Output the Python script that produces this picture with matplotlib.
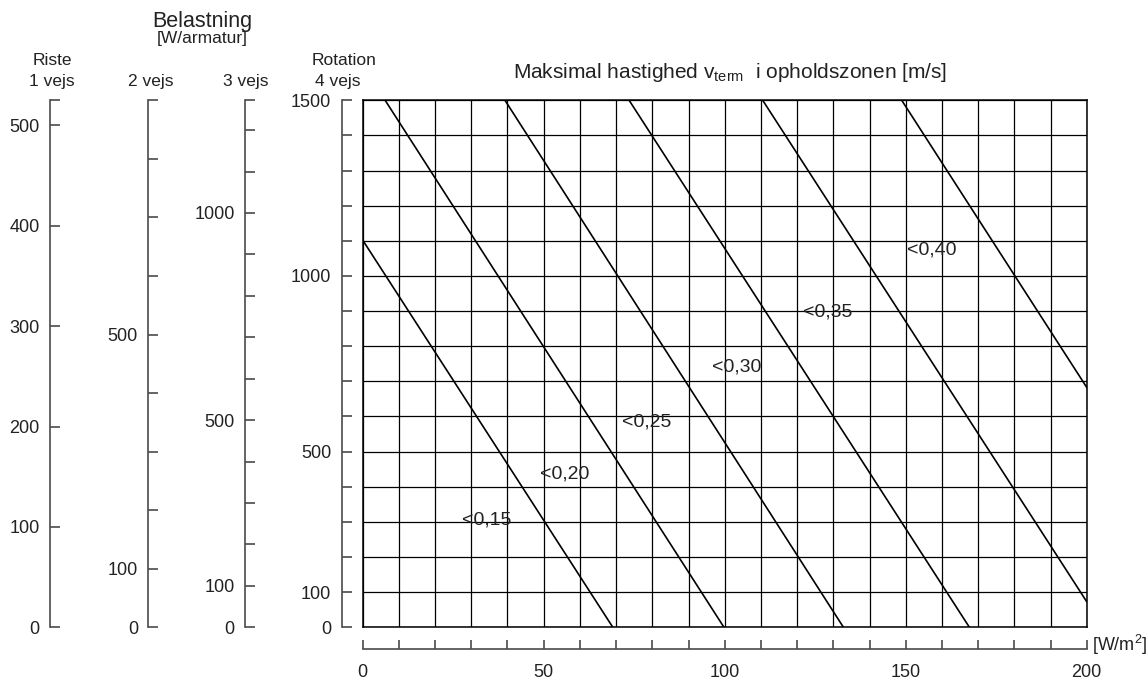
import numpy as np
import matplotlib
matplotlib.use("Agg")
import matplotlib.pyplot as plt

plt.rcParams["font.family"] = ["Liberation Sans", "DejaVu Sans"]
plt.rcParams["mathtext.fontset"] = "custom"
plt.rcParams["mathtext.rm"] = "Liberation Sans"
plt.rcParams["mathtext.it"] = "Liberation Sans:italic"

# ======================
# data
# ======================
# velocity lines in the main grid: start / end points (W/m2, W/armatur 4 vejs)
line_labels = ["<0,15", "<0,20", "<0,25", "<0,30", "<0,35", "<0,40"]
line_x0 = [0, 6.2, 39.3, 73.6, 110.5, 148.9]
line_y0 = [1102, 1500, 1500, 1500, 1500, 1500]
line_x1 = [69.1, 99.8, 132.8, 167.6, 200, 200]
line_y1 = [0, 0, 0, 0, 73, 683]
label_x = [27.4, 49.0, 71.6, 96.5, 121.6, 150.4]
label_y = [305, 436, 584, 741, 897, 1074]

# load scales on the left
scale_names = ["Riste\n1 vejs", "2 vejs", "3 vejs", "Rotation\n4 vejs"]
scale_max = [525, 900, 1272, 1500]
scale_step = [100, 100, 100, 100]
scale_labels = [[0, 100, 200, 300, 400, 500],
                [0, 100, 500],
                [0, 100, 500, 1000],
                [0, 100, 500, 1000, 1500]]

x_max = 200
x_labels = [0, 50, 100, 150, 200]

# ======================
# layout (pixels)
# ======================
W, H = 1148, 682
fig = plt.figure(figsize=(W / 100, H / 100), dpi=100)


def fx(px):
    return px / W


def fy(py):
    return 1 - py / H


grid_left, grid_right = 362.7, 1086.7
grid_top, grid_bottom = 100.3, 627.3
spine_px = [50, 148.3, 245, 341.7]
grey = "#4a4a4a"
txt = "#222222"

# ======================
# main grid
# ======================
ax = fig.add_axes([fx(grid_left), fy(grid_bottom),
                   fx(grid_right - grid_left), (grid_bottom - grid_top) / H])
ax.set_xlim(0, x_max)
ax.set_ylim(0, scale_max[-1])
ax.set_xticks(np.arange(0, x_max + 1, 10))
ax.set_yticks(np.arange(0, scale_max[-1] + 1, 100))
ax.grid(True, color="black", lw=0.9)
ax.tick_params(length=0, labelleft=False, labelbottom=False)
for s in ax.spines.values():
    s.set_color("black")
    s.set_linewidth(1.1)

for i in range(len(line_labels)):
    ax.plot([line_x0[i], line_x1[i]], [line_y0[i], line_y1[i]],
            color="black", lw=1.2, zorder=3)
    ax.text(label_x[i], label_y[i], line_labels[i], fontsize=14,
            ha="left", va="center", color=txt)

# ======================
# left load scales
# ======================
for i in range(len(scale_names)):
    sax = fig.add_axes([fx(spine_px[i]), fy(grid_bottom), 0.0005,
                        (grid_bottom - grid_top) / H])
    sax.set_ylim(0, scale_max[i])
    sax.set_xticks([])
    for side in ["top", "right", "bottom"]:
        sax.spines[side].set_visible(False)
    sax.spines["left"].set_color(grey)
    sax.spines["left"].set_linewidth(1.2)
    sax.patch.set_visible(False)
    ticks = list(np.arange(0, scale_max[i] + 1, scale_step[i]))
    if i == 0:
        ticks = list(scale_labels[0])
    if ticks[-1] != scale_max[i]:
        ticks.append(scale_max[i])
    sax.set_yticks(ticks)
    sax.set_yticklabels([str(int(t)) if t in scale_labels[i] else "" for t in ticks])
    sax.tick_params(axis="y", direction="in", length=7.5, width=1.2,
                    color=grey, pad=7.5, labelsize=13, labelcolor=txt)

# header texts
fig.text(fx(202), fy(26.7), "Belastning", fontsize=15.5, ha="center", va="baseline", color=txt)
fig.text(fx(202), fy(43.5), "[W/armatur]", fontsize=12.5, ha="center", va="baseline", color=txt)
head_x = [52, 151, 246, 338]
for i in range(len(scale_names)):
    parts = scale_names[i].split("\n")
    fig.text(fx(head_x[i]), fy(86), parts[-1], fontsize=12.5, ha="center",
             va="baseline", color=txt)
    if len(parts) > 1:
        fig.text(fx(head_x[i] + (6 if i == 3 else 0)), fy(65), parts[0], fontsize=12.5,
                 ha="center", va="baseline", color=txt)

fig.text(fx(512.7), fy(77.7), "Maksimal hastighed v$_{\\mathrm{term}}$  i opholdszonen [m/s]",
         fontsize=15, ha="left", va="baseline", color=txt)

# ======================
# bottom W/m2 axis
# ======================
bax = fig.add_axes([fx(grid_left), fy(649.3), fx(grid_right - grid_left), 0.0005])
bax.set_xlim(0, x_max)
bax.set_yticks([])
for side in ["top", "right", "left"]:
    bax.spines[side].set_visible(False)
bax.spines["bottom"].set_color(grey)
bax.spines["bottom"].set_linewidth(1.2)
bax.patch.set_visible(False)
xt = np.arange(0, x_max + 1, 10)
bax.set_xticks(xt)
bax.set_xticklabels([str(int(t)) if t in x_labels else "" for t in xt])
bax.tick_params(axis="x", direction="in", length=6.5, width=1.2, color=grey,
                pad=10.5, labelsize=13, labelcolor=txt)

fig.text(fx(1092), fy(645), "[W/m$^2$]", fontsize=13, ha="left", va="center", color=txt)

fig.savefig("out.png", dpi=100)
